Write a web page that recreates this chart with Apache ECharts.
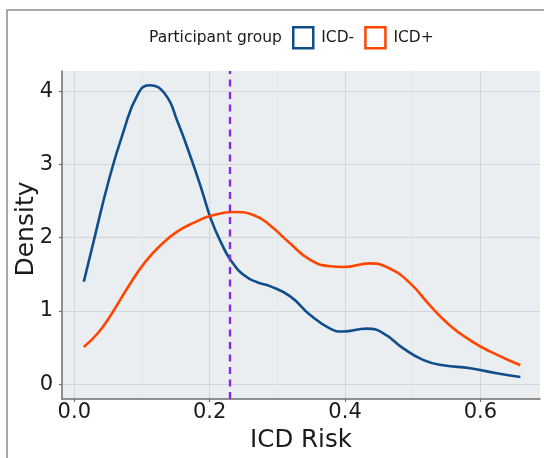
<!DOCTYPE html>
<html>
<head>
<meta charset="utf-8">
<script src="https://cdn.jsdelivr.net/npm/echarts@6/dist/echarts.min.js"></script>
<style>
  html, body { margin: 0; padding: 0; background: #ffffff; }
  #chart { width: 544px; height: 458px; }
</style>
</head>
<body>
<div id="chart"></div>
<script>
// Kernel density estimates of ICD risk for each participant group
const riskNeg = [0.014, 0.028, 0.050, 0.072, 0.094, 0.111, 0.134, 0.153, 0.173, 0.188, 0.202, 0.217, 0.232, 0.252, 0.271, 0.289, 0.319, 0.348, 0.378, 0.397, 0.432, 0.456, 0.486, 0.516, 0.545, 0.585, 0.624, 0.659];
const densNeg = [1.40, 1.93, 2.75, 3.43, 3.96, 4.08, 3.96, 3.57, 3.07, 2.66, 2.25, 1.93, 1.68, 1.48, 1.39, 1.34, 1.20, 0.95, 0.76, 0.72, 0.76, 0.70, 0.49, 0.33, 0.26, 0.22, 0.15, 0.10];

const riskPos = [0.014, 0.035, 0.055, 0.079, 0.104, 0.129, 0.153, 0.178, 0.202, 0.237, 0.267, 0.289, 0.319, 0.348, 0.378, 0.397, 0.437, 0.466, 0.496, 0.525, 0.554, 0.585, 0.614, 0.659];
const densPos = [0.51, 0.70, 0.96, 1.32, 1.66, 1.91, 2.09, 2.21, 2.30, 2.35, 2.30, 2.17, 1.92, 1.70, 1.61, 1.60, 1.65, 1.58, 1.38, 1.08, 0.81, 0.60, 0.45, 0.26];

const groupNames = ['ICD-', 'ICD+'];
const groupColors = ['#104E8B', '#FF4500'];
const thresholdRisk = 0.231;

const xTicks = [0, 0.2, 0.4, 0.6];
const xMinorTicks = [0.1, 0.3, 0.5];
const yTicks = [0, 1, 2, 3, 4];

const zip = (xs, ys) => xs.map((x, i) => [x, ys[i]]);

const FONT = 'DejaVu Sans';
const chart = echarts.init(document.getElementById('chart'), null, { renderer: 'canvas' });

const option = {
  backgroundColor: '#ffffff',
  animation: false,
  graphic: [
    {
      type: 'rect',
      shape: { x: 7, y: 10, width: 620, height: 520 },
      style: { fill: 'none', stroke: '#8c8c8c', lineWidth: 1.5 },
      z: -10
    },
    {
      type: 'text',
      x: 149,
      y: 38,
      style: {
        text: 'Participant group', font: '15.5px "DejaVu Sans"', fill: '#1a1a1a',
        verticalAlign: 'middle', align: 'left'
      }
    }
  ],
  legend: {
    left: 292,
    top: 26,
    padding: 0,
    itemWidth: 20,
    itemHeight: 21,
    itemGap: 10,
    textStyle: { fontFamily: FONT, fontSize: 15.5, color: '#1a1a1a', padding: [0, 0, 0, 3] },
    data: groupNames.map((n, i) => ({
      name: n,
      icon: 'rect',
      itemStyle: { color: '#ffffff', borderColor: groupColors[i], borderWidth: 2.5 }
    }))
  },
  grid: {
    left: 62, top: 71, right: 4, bottom: 59,
    outerBoundsMode: 'none',
    containLabel: false,
    show: true, backgroundColor: '#EAEEF0', borderWidth: 0
  },
  xAxis: [
    {
      type: 'value',
      min: -0.0182, max: 0.688,
      name: 'ICD Risk',
      nameLocation: 'middle',
      nameGap: 28,
      nameTextStyle: { fontFamily: FONT, fontSize: 24.5, color: '#1a1a1a' },
      axisLine: { show: true, onZero: false, lineStyle: { color: '#6e6e6e', width: 1.5 } },
      axisTick: { show: true, length: 3, customValues: xTicks, lineStyle: { color: '#6e6e6e', width: 1.2 } },
      axisLabel: {
        customValues: xTicks, fontFamily: FONT, fontSize: 21, color: '#1a1a1a', margin: 3,
        formatter: v => v.toFixed(1)
      },
      splitLine: { show: true, lineStyle: { color: '#D3D6D9', width: 1 } }
    },
    {
      type: 'value',
      min: -0.0182, max: 0.688,
      position: 'bottom',
      axisLine: { show: false },
      axisTick: { show: false, customValues: xMinorTicks },
      axisLabel: { show: false, customValues: xMinorTicks },
      splitLine: { show: true, lineStyle: { color: '#E0E3E6', width: 0.8 } }
    }
  ],
  yAxis: {
    type: 'value',
    min: -0.2, max: 4.274,
    name: 'Density',
    nameLocation: 'middle',
    nameGap: 23,
    nameMoveOverlap: false,
    nameTextStyle: { fontFamily: FONT, fontSize: 25, color: '#1a1a1a', padding: [0, 0, 0, 12] },
    axisLine: { show: true, onZero: false, lineStyle: { color: '#6e6e6e', width: 1.5 } },
    axisTick: { show: true, length: 3, customValues: yTicks, lineStyle: { color: '#6e6e6e', width: 1.2 } },
    axisLabel: { customValues: yTicks, fontFamily: FONT, fontSize: 21, color: '#1a1a1a', margin: 9 },
    splitLine: { show: true, lineStyle: { color: '#D3D6D9', width: 1 } }
  },
  series: [
    {
      name: groupNames[0],
      type: 'line',
      smooth: 0.5,
      showSymbol: false,
      data: zip(riskNeg, densNeg),
      lineStyle: { color: groupColors[0], width: 2.6 },
      itemStyle: { color: groupColors[0] },
      z: 3
    },
    {
      name: groupNames[1],
      type: 'line',
      smooth: 0.5,
      showSymbol: false,
      data: zip(riskPos, densPos),
      lineStyle: { color: groupColors[1], width: 2.6 },
      itemStyle: { color: groupColors[1] },
      z: 3,
      markLine: {
        silent: true,
        symbol: 'none',
        label: { show: false },
        lineStyle: { color: '#8A2BE2', width: 2.4, type: [7, 5.5] },
        data: [{ xAxis: thresholdRisk }],
        z: 4
      }
    }
  ]
};

chart.setOption(option);
</script>
</body>
</html>
